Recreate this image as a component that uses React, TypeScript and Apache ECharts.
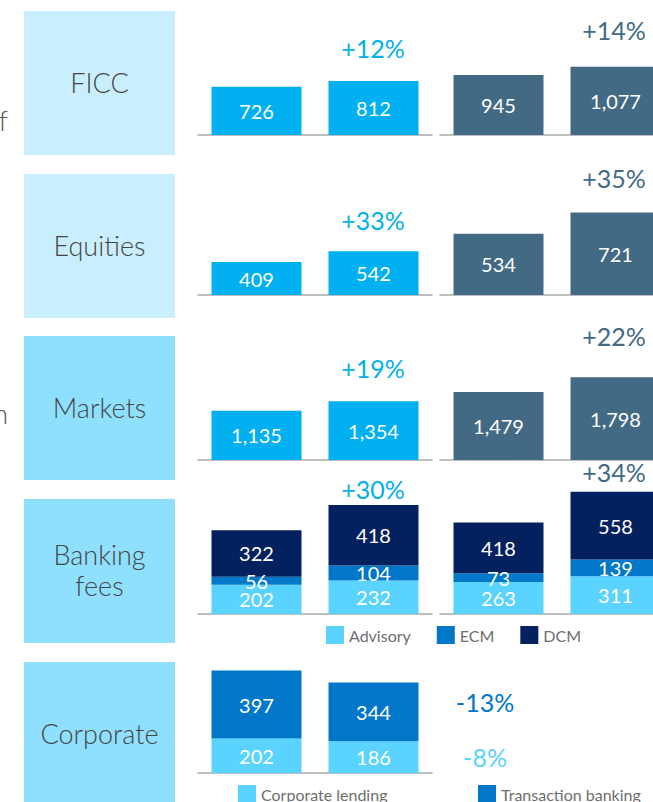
import React, { useEffect, useRef } from 'react';
import * as echarts from 'echarts';

// ---- data ----
const periods = ['Prior', 'Current'];
const segmentLabels = ['FICC', 'Equities', 'Markets', 'Banking\nfees', 'Corporate'];

const ficcLeft = [726, 812];
const ficcRight = [945, 1077];
const equitiesLeft = [409, 542];
const equitiesRight = [534, 721];
const marketsLeft = [1135, 1354];
const marketsRight = [1479, 1798];

const advisoryLeft = [202, 232];
const ecmLeft = [56, 104];
const dcmLeft = [322, 418];
const advisoryRight = [263, 311];
const ecmRight = [73, 139];
const dcmRight = [418, 558];

const corporateLending = [202, 186];
const transactionBanking = [397, 344];

const growthLeft = ['+12%', '+33%', '+19%', '+30%'];
const growthRight = ['+14%', '+35%', '+22%', '+34%'];
const corporateGrowth = ['-13%', '-8%'];

const legendBanking = ['Advisory', 'ECM', 'DCM'];

// ---- styles / layout ----
const FONT = 'Lato, "Open Sans", sans-serif';
const CYAN = '#00B0F0';
const SLATE = '#426A85';
const ADV = '#5BD3FF';
const ECMC = '#0077C8';
const DCMC = '#03205F';
const BOX_LIGHT = '#C9EFFE';
const BOX_MID = '#8FE0FF';

const baselines = [135, 295, 460, 614, 773];
const boxTops = [11, 174, 336, 499, 662];
const GH = 140;
const axisMax = [[2030, 2128], [1736, 1222], [3220, 3045], [969, 1155], [819]];

export default function App() {
  const ref = useRef<HTMLDivElement>(null);
  useEffect(() => {
    document.body.style.margin = '0';
    const chart = echarts.init(ref.current!, null, { renderer: 'svg' });

    const grids: any[] = [];
    const xAxes: any[] = [];
    const yAxes: any[] = [];
    const axisLine = { show: true, lineStyle: { color: '#ABABAB', width: 1.5 } };
    baselines.forEach((b, r) => {
      axisMax[r].forEach((mx, side) => {
        const gi = grids.length;
        grids.push({ left: side === 0 ? 198 : 440, width: 234, top: b - GH, height: GH });
        xAxes.push({
          type: 'category', gridIndex: gi, data: periods, axisLine,
          axisTick: { show: false }, axisLabel: { show: false }, splitLine: { show: false },
        });
        yAxes.push({ type: 'value', gridIndex: gi, min: 0, max: mx, show: false, splitLine: { show: false } });
      });
    });

    const label = {
      show: true, position: 'inside', color: '#ffffff', fontSize: 20, fontFamily: FONT,
      formatter: (p: any) => Number(p.value).toLocaleString('en-US'),
    };
    const bar = (name: string, data: number[], color: string, idx: number, stack?: string) => ({
      type: 'bar', name, data,
      xAxisIndex: idx, yAxisIndex: idx, barWidth: 90, stack,
      itemStyle: { color }, label, silent: true, emphasis: { disabled: true },
    });

    const series = [
      bar('FICC L', ficcLeft, CYAN, 0),
      bar('FICC R', ficcRight, SLATE, 1),
      bar('Equities L', equitiesLeft, CYAN, 2),
      bar('Equities R', equitiesRight, SLATE, 3),
      bar('Markets L', marketsLeft, CYAN, 4),
      bar('Markets R', marketsRight, SLATE, 5),
      bar('Advisory', advisoryLeft, ADV, 6, 'bl'),
      bar('ECM', ecmLeft, ECMC, 6, 'bl'),
      bar('DCM', dcmLeft, DCMC, 6, 'bl'),
      bar('Advisory', advisoryRight, ADV, 7, 'br'),
      bar('ECM', ecmRight, ECMC, 7, 'br'),
      bar('DCM', dcmRight, DCMC, 7, 'br'),
      bar('Corporate lending', corporateLending, ADV, 8, 'c'),
      bar('Transaction banking', transactionBanking, ECMC, 8, 'c'),
    ];

    const graphic: any[] = [];
    segmentLabels.forEach((t, i) => {
      graphic.push({
        type: 'rect', shape: { x: 24, y: boxTops[i], width: 151, height: 144 },
        style: { fill: i < 2 ? BOX_LIGHT : BOX_MID }, silent: true,
      });
      graphic.push({
        type: 'text', x: 99.5, y: boxTops[i] + 71,
        style: { text: t, fill: '#454545', fontSize: 27, fontWeight: 300, fontFamily: FONT, align: 'center', verticalAlign: 'middle', lineHeight: 31 },
        silent: true,
      });
    });
    const growthStyle = { fontSize: 25, fontWeight: 400, fontFamily: FONT, align: 'center', verticalAlign: 'middle' };
    const leftGrowthY = [48, 219.5, 367.5, 489];
    const rightGrowthY = [30, 177.5, 336, 472];
    growthLeft.forEach((t, i) => {
      graphic.push({ type: 'text', x: 373, y: leftGrowthY[i], style: { ...growthStyle, text: t, fill: CYAN } });
    });
    growthRight.forEach((t, i) => {
      graphic.push({ type: 'text', x: 614, y: rightGrowthY[i], style: { ...growthStyle, text: t, fill: SLATE } });
    });
    graphic.push({ type: 'text', x: 485, y: 702, style: { ...growthStyle, text: corporateGrowth[0], fill: ECMC } });
    graphic.push({ type: 'text', x: 485, y: 757, style: { ...growthStyle, text: corporateGrowth[1], fill: ADV } });
    graphic.push({
      type: 'text', x: 8, y: 120,
      style: { text: 'f', fill: '#555555', fontSize: 27, fontWeight: 300, fontFamily: FONT, align: 'right', verticalAlign: 'middle' },
    });
    graphic.push({
      type: 'text', x: 8, y: 413,
      style: { text: 'n', fill: '#555555', fontSize: 27, fontWeight: 300, fontFamily: FONT, align: 'right', verticalAlign: 'middle' },
    });

    const legendCommon = {
      orient: 'horizontal', icon: 'rect', itemWidth: 18, itemHeight: 18, itemGap: 26,
      selectedMode: false, padding: 0,
      textStyle: { fontFamily: FONT, fontSize: 16, color: '#6E6E6E' },
    };

    chart.setOption({
      animation: false,
      backgroundColor: '#ffffff',
      grid: grids,
      xAxis: xAxes,
      yAxis: yAxes,
      series,
      graphic,
      legend: [
        { ...legendCommon, data: legendBanking, left: 326, top: 626 },
        { ...legendCommon, data: ['Corporate lending'], left: 238, top: 785 },
        { ...legendCommon, data: ['Transaction banking'], left: 478, top: 785 },
      ],
    });
    return () => chart.dispose();
  }, []);
  return (
    <div style={{ position: 'absolute', left: 0, top: 0, width: 653, height: 802, overflow: 'hidden' }}>
      <div ref={ref} style={{ width: 690, height: 802 }} />
    </div>
  );
}
